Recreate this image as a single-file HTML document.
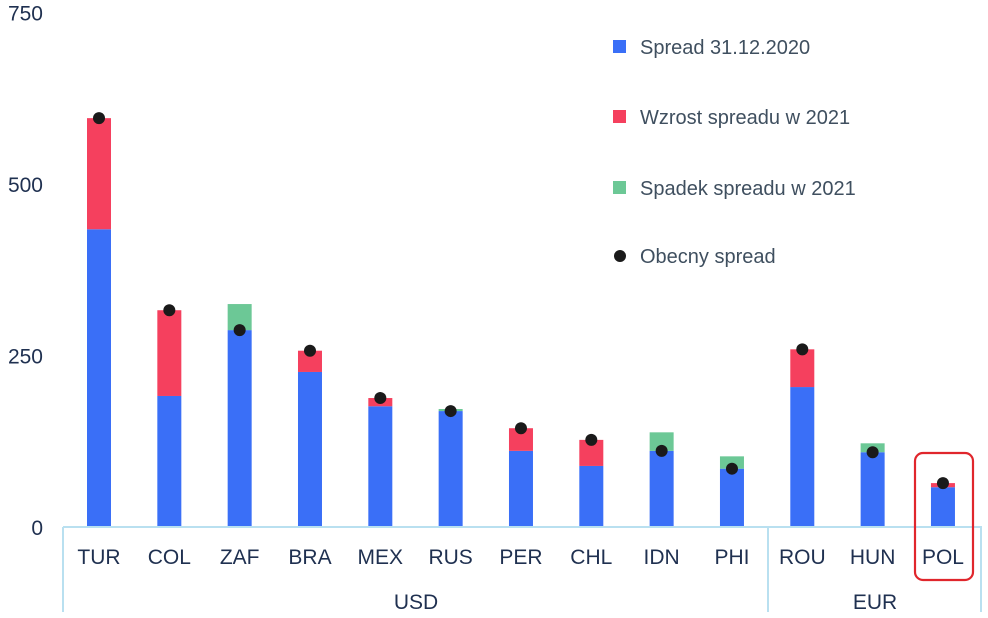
<!DOCTYPE html>
<html><head><meta charset="utf-8"><style>
body{margin:0;background:#fff;}
svg{display:block;font-family:"Liberation Sans",sans-serif;}
</style></head><body>
<svg id="chart" width="988" height="618" viewBox="0 0 988 618" xmlns="http://www.w3.org/2000/svg">
<g id="yaxis"></g>
<g id="bars"></g>
<g id="xaxis">
<line x1="63" y1="527" x2="982" y2="527" stroke="#b9e0f0" stroke-width="2"/>
<line x1="63" y1="527" x2="63" y2="612" stroke="#b9e0f0" stroke-width="2"/>
<line x1="768" y1="527" x2="768" y2="612" stroke="#b9e0f0" stroke-width="2"/>
<line x1="981" y1="527" x2="981" y2="612" stroke="#b9e0f0" stroke-width="2"/>
<text x="416" y="609" font-size="21" fill="#1f3050" text-anchor="middle">USD</text>
<text x="875" y="609" font-size="21" fill="#1f3050" text-anchor="middle">EUR</text>
</g>
<rect x="915" y="453" width="58" height="127" rx="8" fill="none" stroke="#e0262c" stroke-width="2.2"/>
<g>
<g><rect x="613" y="40" width="13" height="13" fill="#3a6ff7"/><text x="640" y="54" font-size="20" fill="#3f4f5f">Spread 31.12.2020</text></g>
<g><rect x="613" y="110" width="13" height="13" fill="#f5405e"/><text x="640" y="124" font-size="20" fill="#3f4f5f">Wzrost spreadu w 2021</text></g>
<g><rect x="613" y="181" width="13" height="13" fill="#6cc896"/><text x="640" y="195" font-size="20" fill="#3f4f5f">Spadek spreadu w 2021</text></g>
<g><circle cx="620" cy="256" r="6" fill="#1a1a1a"/><text x="640" y="263" font-size="20" fill="#3f4f5f">Obecny spread</text></g>
</g>
</svg>
<script>
const categories=["TUR","COL","ZAF","BRA","MEX","RUS","PER","CHL","IDN","PHI","ROU","HUN","POL"];
const spread2020=[434,191,325,226,176,172,111,89,138,103,204,122,58];
const currentSpread=[596,316,287,257,188,169,144,127,111,85,259,109,64];
const yTicks=[0,250,500,750];
const NS="http://www.w3.org/2000/svg";
function y(v){return 527-v*0.686;}
function x(i){return 99+i*70.33;}
const bw=24;
const ya=document.getElementById('yaxis'),bars=document.getElementById('bars'),xa=document.getElementById('xaxis');
function mk(tag,attrs,parent){const e=document.createElementNS(NS,tag);for(const k in attrs)e.setAttribute(k,attrs[k]);parent.appendChild(e);return e;}
yTicks.forEach(t=>{
  const tx=mk('text',{x:43,y:y(t)+8,'font-size':21,fill:'#1f3050','text-anchor':'end'},ya);
  
  
  tx.textContent=t;
});
categories.forEach((c,i)=>{
  const b=spread2020[i],cu=currentSpread[i],lo=Math.min(b,cu),hi=Math.max(b,cu);
  const r1=mk('rect',{x:x(i)-bw/2,y:y(lo),width:bw,height:y(0)-y(lo),fill:'#3a6ff7'},bars);
  
  
  const r2=mk('rect',{x:x(i)-bw/2,y:y(hi),width:bw,height:y(lo)-y(hi),fill:cu>=b?'#f5405e':'#6cc896'},bars);
  
  
  const d=mk('circle',{cx:x(i),cy:y(cu),r:6,fill:'#1a1a1a'},bars);
  
  
  const t=mk('text',{x:x(i),y:564,'font-size':21,fill:'#1f3050','text-anchor':'middle'},xa);
  
  
  t.textContent=c;
});
</script>
</body></html>
